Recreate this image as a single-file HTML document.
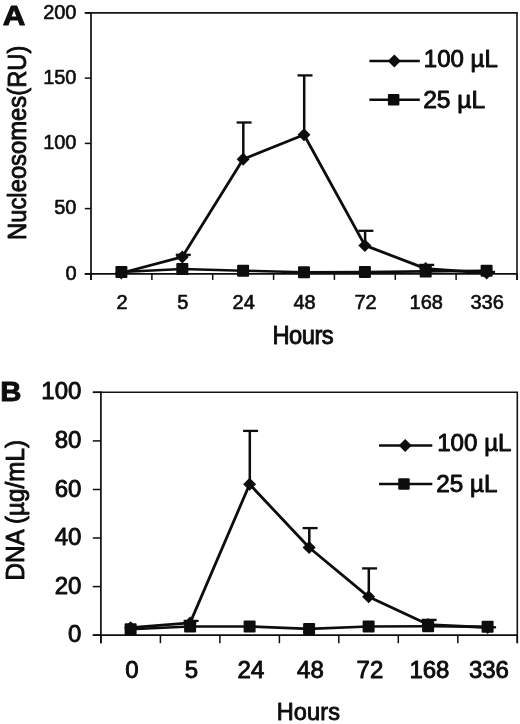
<!DOCTYPE html>
<html><head><meta charset="utf-8"><title>Figure</title>
<style>html,body{margin:0;padding:0;background:#fff}svg{display:block}
text{font-family:"Liberation Sans",Arial,Helvetica,sans-serif;fill:#0d0d0d;stroke:#0d0d0d;stroke-width:0.9px;stroke-linejoin:round}</style></head>
<body><svg width="520" height="724" viewBox="0 0 520 724">
<rect width="520" height="724" fill="#fff"/>
<g style="filter:blur(0.4px)">
<line x1="84.8" y1="12.9" x2="517.8" y2="12.9" stroke="#141414" stroke-width="1.6" stroke-linecap="butt"/>
<line x1="517.0" y1="12.9" x2="517.0" y2="279.9" stroke="#141414" stroke-width="1.6" stroke-linecap="butt"/>
<line x1="91.0" y1="12.1" x2="91.0" y2="279.9" stroke="#0d0d0d" stroke-width="1.7" stroke-linecap="butt"/>
<line x1="84.8" y1="273.9" x2="517.0" y2="273.9" stroke="#0d0d0d" stroke-width="1.7" stroke-linecap="butt"/>
<line x1="84.8" y1="273.9" x2="91.0" y2="273.9" stroke="#0d0d0d" stroke-width="1.5" stroke-linecap="butt"/>
<text x="76.5" y="279.7" font-size="20" text-anchor="end" font-weight="normal" style="stroke-width:0.6px">0</text>
<line x1="84.8" y1="208.6" x2="91.0" y2="208.6" stroke="#0d0d0d" stroke-width="1.5" stroke-linecap="butt"/>
<text x="76.5" y="214.4" font-size="20" text-anchor="end" font-weight="normal" style="stroke-width:0.6px">50</text>
<line x1="84.8" y1="143.4" x2="91.0" y2="143.4" stroke="#0d0d0d" stroke-width="1.5" stroke-linecap="butt"/>
<text x="76.5" y="149.2" font-size="20" text-anchor="end" font-weight="normal" style="stroke-width:0.6px">100</text>
<line x1="84.8" y1="78.1" x2="91.0" y2="78.1" stroke="#0d0d0d" stroke-width="1.5" stroke-linecap="butt"/>
<text x="76.5" y="83.9" font-size="20" text-anchor="end" font-weight="normal" style="stroke-width:0.6px">150</text>
<line x1="84.8" y1="12.9" x2="91.0" y2="12.9" stroke="#0d0d0d" stroke-width="1.5" stroke-linecap="butt"/>
<text x="76.5" y="18.7" font-size="20" text-anchor="end" font-weight="normal" style="stroke-width:0.6px">200</text>
<line x1="91.0" y1="273.9" x2="91.0" y2="279.9" stroke="#0d0d0d" stroke-width="1.5" stroke-linecap="butt"/>
<line x1="151.9" y1="273.9" x2="151.9" y2="279.9" stroke="#0d0d0d" stroke-width="1.5" stroke-linecap="butt"/>
<line x1="212.7" y1="273.9" x2="212.7" y2="279.9" stroke="#0d0d0d" stroke-width="1.5" stroke-linecap="butt"/>
<line x1="273.6" y1="273.9" x2="273.6" y2="279.9" stroke="#0d0d0d" stroke-width="1.5" stroke-linecap="butt"/>
<line x1="334.4" y1="273.9" x2="334.4" y2="279.9" stroke="#0d0d0d" stroke-width="1.5" stroke-linecap="butt"/>
<line x1="395.3" y1="273.9" x2="395.3" y2="279.9" stroke="#0d0d0d" stroke-width="1.5" stroke-linecap="butt"/>
<line x1="456.1" y1="273.9" x2="456.1" y2="279.9" stroke="#0d0d0d" stroke-width="1.5" stroke-linecap="butt"/>
<line x1="517.0" y1="273.9" x2="517.0" y2="279.9" stroke="#0d0d0d" stroke-width="1.5" stroke-linecap="butt"/>
<text x="122.0" y="309.2" font-size="20" text-anchor="middle" font-weight="normal" style="stroke-width:0.6px">2</text>
<text x="182.9" y="309.2" font-size="20" text-anchor="middle" font-weight="normal" style="stroke-width:0.6px">5</text>
<text x="243.7" y="309.2" font-size="20" text-anchor="middle" font-weight="normal" style="stroke-width:0.6px">24</text>
<text x="304.6" y="309.2" font-size="20" text-anchor="middle" font-weight="normal" style="stroke-width:0.6px">48</text>
<text x="365.5" y="309.2" font-size="20" text-anchor="middle" font-weight="normal" style="stroke-width:0.6px">72</text>
<text x="426.3" y="309.2" font-size="20" text-anchor="middle" font-weight="normal" style="stroke-width:0.6px">168</text>
<text x="487.2" y="309.2" font-size="20" text-anchor="middle" font-weight="normal" style="stroke-width:0.6px">336</text>
<polyline points="121.4,272.0 182.3,269.0 243.1,270.7 304.0,272.2 364.9,272.0 425.7,271.4 486.6,270.7" fill="none" stroke="#0d0d0d" stroke-width="2.6" stroke-linejoin="round"/>
<polyline points="121.4,273.0 182.3,256.9 243.1,159.2 304.0,134.8 364.9,245.4 425.7,268.6 486.6,273.0" fill="none" stroke="#0d0d0d" stroke-width="2.8" stroke-linejoin="round"/>
<line x1="182.5" y1="256.9" x2="182.5" y2="254.8" stroke="#0d0d0d" stroke-width="2.5" stroke-linecap="butt"/>
<line x1="175.8" y1="254.8" x2="190.8" y2="254.8" stroke="#0d0d0d" stroke-width="2.3" stroke-linecap="butt"/>
<line x1="243.3" y1="159.2" x2="243.3" y2="122.5" stroke="#0d0d0d" stroke-width="2.5" stroke-linecap="butt"/>
<line x1="236.6" y1="122.5" x2="251.6" y2="122.5" stroke="#0d0d0d" stroke-width="2.3" stroke-linecap="butt"/>
<line x1="304.2" y1="134.8" x2="304.2" y2="75.4" stroke="#0d0d0d" stroke-width="2.5" stroke-linecap="butt"/>
<line x1="297.5" y1="75.4" x2="312.5" y2="75.4" stroke="#0d0d0d" stroke-width="2.3" stroke-linecap="butt"/>
<line x1="365.1" y1="245.4" x2="365.1" y2="230.8" stroke="#0d0d0d" stroke-width="2.5" stroke-linecap="butt"/>
<line x1="358.4" y1="230.8" x2="373.4" y2="230.8" stroke="#0d0d0d" stroke-width="2.3" stroke-linecap="butt"/>
<line x1="425.9" y1="268.6" x2="425.9" y2="264.9" stroke="#0d0d0d" stroke-width="2.5" stroke-linecap="butt"/>
<line x1="419.2" y1="264.9" x2="434.2" y2="264.9" stroke="#0d0d0d" stroke-width="2.3" stroke-linecap="butt"/>
<line x1="486.8" y1="273.0" x2="486.8" y2="272.0" stroke="#0d0d0d" stroke-width="2.5" stroke-linecap="butt"/>
<line x1="480.1" y1="272.0" x2="495.1" y2="272.0" stroke="#0d0d0d" stroke-width="2.3" stroke-linecap="butt"/>
<polygon points="121.4,266.5 127.9,273.0 121.4,279.5 114.9,273.0" fill="#0d0d0d"/>
<polygon points="182.3,250.4 188.8,256.9 182.3,263.4 175.8,256.9" fill="#0d0d0d"/>
<polygon points="243.1,152.8 249.6,159.2 243.1,165.8 236.6,159.2" fill="#0d0d0d"/>
<polygon points="304.0,128.3 310.5,134.8 304.0,141.3 297.5,134.8" fill="#0d0d0d"/>
<polygon points="364.9,238.9 371.4,245.4 364.9,251.9 358.4,245.4" fill="#0d0d0d"/>
<polygon points="425.7,262.1 432.2,268.6 425.7,275.1 419.2,268.6" fill="#0d0d0d"/>
<polygon points="486.6,266.5 493.1,273.0 486.6,279.5 480.1,273.0" fill="#0d0d0d"/>
<rect x="115.4" y="266.0" width="12" height="12" rx="1" fill="#0d0d0d"/>
<rect x="176.3" y="263.0" width="12" height="12" rx="1" fill="#0d0d0d"/>
<rect x="237.1" y="264.7" width="12" height="12" rx="1" fill="#0d0d0d"/>
<rect x="298.0" y="266.2" width="12" height="12" rx="1" fill="#0d0d0d"/>
<rect x="358.9" y="266.0" width="12" height="12" rx="1" fill="#0d0d0d"/>
<rect x="419.7" y="265.4" width="12" height="12" rx="1" fill="#0d0d0d"/>
<rect x="480.6" y="264.7" width="12" height="12" rx="1" fill="#0d0d0d"/>
<line x1="369.4" y1="61.0" x2="419.8" y2="61.0" stroke="#0d0d0d" stroke-width="2.6" stroke-linecap="butt"/>
<polygon points="394.3,54.6 400.8,61.1 394.3,67.6 387.8,61.1" fill="#0d0d0d"/>
<text x="423.8" y="66.9" font-size="23.5" text-anchor="start" font-weight="normal" textLength="74" lengthAdjust="spacingAndGlyphs">100 µL</text>
<line x1="369.4" y1="99.8" x2="419.8" y2="99.8" stroke="#0d0d0d" stroke-width="2.6" stroke-linecap="butt"/>
<rect x="387.9" y="94.0" width="11.5" height="11.5" rx="1" fill="#0d0d0d"/>
<text x="423.2" y="108.0" font-size="23.5" text-anchor="start" font-weight="normal" textLength="62" lengthAdjust="spacingAndGlyphs">25 µL</text>
<text transform="translate(303.1,343.5) scale(0.95,1)" font-size="25" text-anchor="middle" textLength="64.5" lengthAdjust="spacing">Hours</text>
<text transform="translate(26.4,142.75) rotate(-90)" font-size="25.5" text-anchor="middle" textLength="194.5" lengthAdjust="spacingAndGlyphs">Nucleosomes(RU)</text>
<text x="2.8" y="25.4" font-size="27" text-anchor="start" font-weight="bold" textLength="22.6" lengthAdjust="spacingAndGlyphs">A</text>
<line x1="92.8" y1="392.3" x2="518.1" y2="392.3" stroke="#141414" stroke-width="1.6" stroke-linecap="butt"/>
<line x1="517.3" y1="392.3" x2="517.3" y2="643.2" stroke="#141414" stroke-width="1.6" stroke-linecap="butt"/>
<line x1="100.9" y1="391.5" x2="100.9" y2="643.2" stroke="#0d0d0d" stroke-width="1.7" stroke-linecap="butt"/>
<line x1="92.8" y1="635.2" x2="517.3" y2="635.2" stroke="#0d0d0d" stroke-width="1.7" stroke-linecap="butt"/>
<line x1="92.8" y1="635.2" x2="100.9" y2="635.2" stroke="#0d0d0d" stroke-width="1.5" stroke-linecap="butt"/>
<text x="81.4" y="642.2" font-size="24" text-anchor="end" font-weight="normal" style="stroke-width:0.9px">0</text>
<line x1="92.8" y1="586.6" x2="100.9" y2="586.6" stroke="#0d0d0d" stroke-width="1.5" stroke-linecap="butt"/>
<text x="81.4" y="593.6" font-size="24" text-anchor="end" font-weight="normal" style="stroke-width:0.9px">20</text>
<line x1="92.8" y1="538.0" x2="100.9" y2="538.0" stroke="#0d0d0d" stroke-width="1.5" stroke-linecap="butt"/>
<text x="81.4" y="545.0" font-size="24" text-anchor="end" font-weight="normal" style="stroke-width:0.9px">40</text>
<line x1="92.8" y1="489.5" x2="100.9" y2="489.5" stroke="#0d0d0d" stroke-width="1.5" stroke-linecap="butt"/>
<text x="81.4" y="496.5" font-size="24" text-anchor="end" font-weight="normal" style="stroke-width:0.9px">60</text>
<line x1="92.8" y1="440.9" x2="100.9" y2="440.9" stroke="#0d0d0d" stroke-width="1.5" stroke-linecap="butt"/>
<text x="81.4" y="447.9" font-size="24" text-anchor="end" font-weight="normal" style="stroke-width:0.9px">80</text>
<line x1="92.8" y1="392.3" x2="100.9" y2="392.3" stroke="#0d0d0d" stroke-width="1.5" stroke-linecap="butt"/>
<text x="81.4" y="399.3" font-size="24" text-anchor="end" font-weight="normal" style="stroke-width:0.9px">100</text>
<line x1="100.9" y1="635.2" x2="100.9" y2="643.2" stroke="#0d0d0d" stroke-width="1.5" stroke-linecap="butt"/>
<line x1="160.4" y1="635.2" x2="160.4" y2="643.2" stroke="#0d0d0d" stroke-width="1.5" stroke-linecap="butt"/>
<line x1="219.9" y1="635.2" x2="219.9" y2="643.2" stroke="#0d0d0d" stroke-width="1.5" stroke-linecap="butt"/>
<line x1="279.4" y1="635.2" x2="279.4" y2="643.2" stroke="#0d0d0d" stroke-width="1.5" stroke-linecap="butt"/>
<line x1="338.8" y1="635.2" x2="338.8" y2="643.2" stroke="#0d0d0d" stroke-width="1.5" stroke-linecap="butt"/>
<line x1="398.3" y1="635.2" x2="398.3" y2="643.2" stroke="#0d0d0d" stroke-width="1.5" stroke-linecap="butt"/>
<line x1="457.8" y1="635.2" x2="457.8" y2="643.2" stroke="#0d0d0d" stroke-width="1.5" stroke-linecap="butt"/>
<line x1="517.3" y1="635.2" x2="517.3" y2="643.2" stroke="#0d0d0d" stroke-width="1.5" stroke-linecap="butt"/>
<text x="131.9" y="677.6" font-size="24" text-anchor="middle" font-weight="normal" style="stroke-width:0.9px">0</text>
<text x="191.4" y="677.6" font-size="24" text-anchor="middle" font-weight="normal" style="stroke-width:0.9px">5</text>
<text x="250.9" y="677.6" font-size="24" text-anchor="middle" font-weight="normal" style="stroke-width:0.9px">24</text>
<text x="310.4" y="677.6" font-size="24" text-anchor="middle" font-weight="normal" style="stroke-width:0.9px">48</text>
<text x="369.9" y="677.6" font-size="24" text-anchor="middle" font-weight="normal" style="stroke-width:0.9px">72</text>
<text x="429.4" y="677.6" font-size="24" text-anchor="middle" font-weight="normal" style="stroke-width:0.9px">168</text>
<text x="488.9" y="677.6" font-size="24" text-anchor="middle" font-weight="normal" style="stroke-width:0.9px">336</text>
<polyline points="130.6,629.2 190.1,626.5 249.6,626.5 309.1,628.9 368.6,626.5 428.1,626.3 487.6,626.7" fill="none" stroke="#0d0d0d" stroke-width="2.6" stroke-linejoin="round"/>
<polyline points="130.6,627.7 190.1,622.9 249.6,484.3 309.1,547.5 368.6,596.8 428.1,624.6 487.6,627.5" fill="none" stroke="#0d0d0d" stroke-width="2.8" stroke-linejoin="round"/>
<line x1="190.3" y1="622.9" x2="190.3" y2="620.9" stroke="#0d0d0d" stroke-width="2.5" stroke-linecap="butt"/>
<line x1="183.6" y1="620.9" x2="198.6" y2="620.9" stroke="#0d0d0d" stroke-width="2.3" stroke-linecap="butt"/>
<line x1="249.8" y1="484.3" x2="249.8" y2="430.9" stroke="#0d0d0d" stroke-width="2.5" stroke-linecap="butt"/>
<line x1="243.1" y1="430.9" x2="258.1" y2="430.9" stroke="#0d0d0d" stroke-width="2.3" stroke-linecap="butt"/>
<line x1="309.3" y1="547.5" x2="309.3" y2="528.1" stroke="#0d0d0d" stroke-width="2.5" stroke-linecap="butt"/>
<line x1="302.6" y1="528.1" x2="317.6" y2="528.1" stroke="#0d0d0d" stroke-width="2.3" stroke-linecap="butt"/>
<line x1="368.8" y1="596.8" x2="368.8" y2="568.4" stroke="#0d0d0d" stroke-width="2.5" stroke-linecap="butt"/>
<line x1="362.1" y1="568.4" x2="377.1" y2="568.4" stroke="#0d0d0d" stroke-width="2.3" stroke-linecap="butt"/>
<line x1="428.3" y1="624.6" x2="428.3" y2="619.9" stroke="#0d0d0d" stroke-width="2.5" stroke-linecap="butt"/>
<line x1="421.6" y1="619.9" x2="436.6" y2="619.9" stroke="#0d0d0d" stroke-width="2.3" stroke-linecap="butt"/>
<line x1="487.8" y1="627.5" x2="487.8" y2="627.3" stroke="#0d0d0d" stroke-width="2.5" stroke-linecap="butt"/>
<line x1="481.1" y1="627.3" x2="496.1" y2="627.3" stroke="#0d0d0d" stroke-width="2.3" stroke-linecap="butt"/>
<polygon points="130.6,621.2 137.1,627.7 130.6,634.2 124.1,627.7" fill="#0d0d0d"/>
<polygon points="190.1,616.4 196.6,622.9 190.1,629.4 183.6,622.9" fill="#0d0d0d"/>
<polygon points="249.6,477.8 256.1,484.3 249.6,490.8 243.1,484.3" fill="#0d0d0d"/>
<polygon points="309.1,541.0 315.6,547.5 309.1,554.0 302.6,547.5" fill="#0d0d0d"/>
<polygon points="368.6,590.3 375.1,596.8 368.6,603.3 362.1,596.8" fill="#0d0d0d"/>
<polygon points="428.1,618.1 434.6,624.6 428.1,631.1 421.6,624.6" fill="#0d0d0d"/>
<polygon points="487.6,621.0 494.1,627.5 487.6,634.0 481.1,627.5" fill="#0d0d0d"/>
<rect x="124.6" y="623.2" width="12" height="12" rx="1" fill="#0d0d0d"/>
<rect x="184.1" y="620.5" width="12" height="12" rx="1" fill="#0d0d0d"/>
<rect x="243.6" y="620.5" width="12" height="12" rx="1" fill="#0d0d0d"/>
<rect x="303.1" y="622.9" width="12" height="12" rx="1" fill="#0d0d0d"/>
<rect x="362.6" y="620.5" width="12" height="12" rx="1" fill="#0d0d0d"/>
<rect x="422.1" y="620.3" width="12" height="12" rx="1" fill="#0d0d0d"/>
<rect x="481.6" y="620.7" width="12" height="12" rx="1" fill="#0d0d0d"/>
<line x1="379.0" y1="445.5" x2="432.3" y2="445.5" stroke="#0d0d0d" stroke-width="2.6" stroke-linecap="butt"/>
<polygon points="405.2,439.1 411.7,445.6 405.2,452.1 398.7,445.6" fill="#0d0d0d"/>
<text x="437.2" y="451.0" font-size="24" text-anchor="start" font-weight="normal" textLength="74.3" lengthAdjust="spacingAndGlyphs">100 µL</text>
<line x1="379.0" y1="484.0" x2="432.3" y2="484.0" stroke="#0d0d0d" stroke-width="2.6" stroke-linecap="butt"/>
<rect x="398.2" y="478.2" width="11.5" height="11.5" rx="1" fill="#0d0d0d"/>
<text x="436.3" y="492.3" font-size="24" text-anchor="start" font-weight="normal" textLength="61.2" lengthAdjust="spacingAndGlyphs">25 µL</text>
<text transform="translate(308.3,719.6) scale(0.96,1)" font-size="24.5" text-anchor="middle" textLength="65.9" lengthAdjust="spacing">Hours</text>
<text transform="translate(23.5,510.25) rotate(-90)" font-size="25" text-anchor="middle" textLength="140.5" lengthAdjust="spacingAndGlyphs">DNA (µg/mL)</text>
<text x="0.2" y="401.4" font-size="28.5" text-anchor="start" font-weight="bold" textLength="21.2" lengthAdjust="spacingAndGlyphs">B</text>
</g>
</svg></body></html>
